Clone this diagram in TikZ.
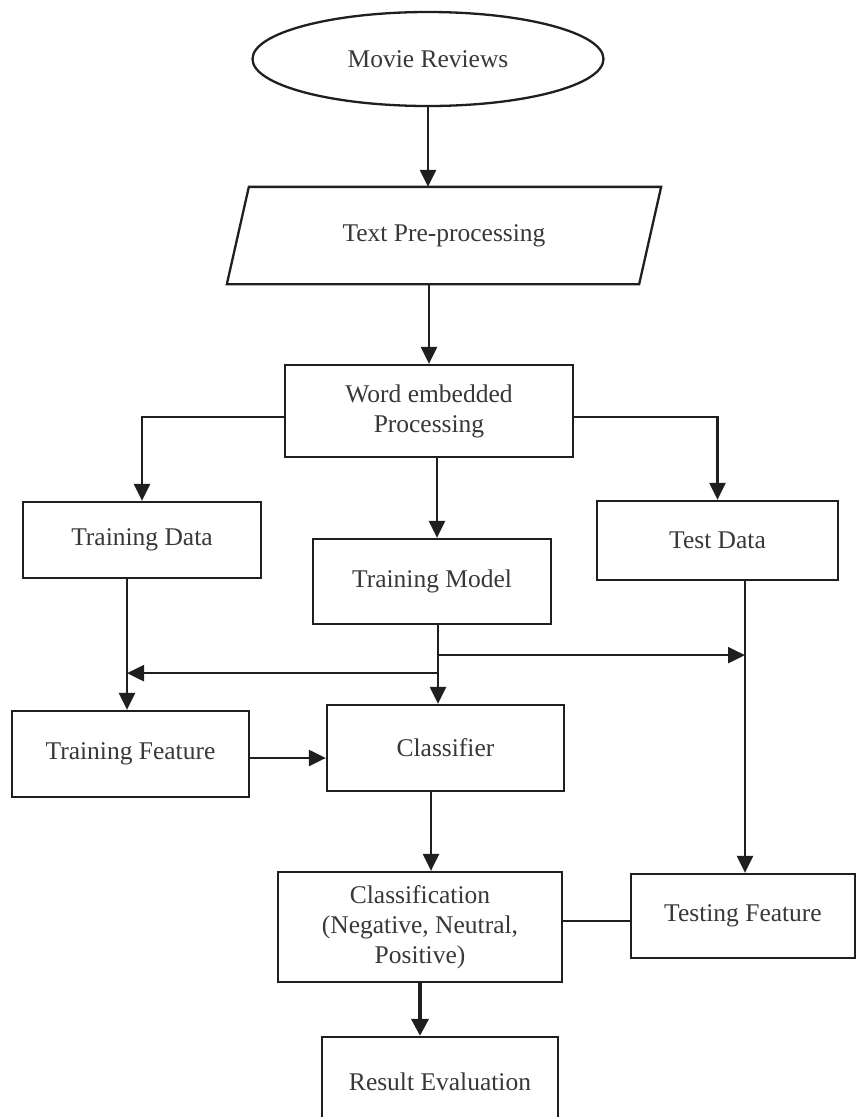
\documentclass[tikz,border=0pt]{standalone}
\usepackage{fontspec}
\setmainfont{Liberation Serif}
\usetikzlibrary{arrows.meta,shapes.geometric,calc}
\tikzset{
  lw/.style={line width=2.3pt, draw=black!88},
  box/.style={lw, rectangle, inner sep=0pt, align=center, text=black!78,
    font=\fontsize{25.5}{30}\selectfont},
  arr/.style={lw, -{Triangle[length=17pt,width=16pt]}},
  thickarr/.style={line width=3.8pt, draw=black!88, -{Triangle[length=17pt,width=17pt]}},
  plain/.style={lw}
}
\begin{document}
\begin{tikzpicture}[x=1pt,y=-1pt]
\useasboundingbox (0,0) rectangle (858,1117);
\fill[white] (0,0) rectangle (858,1117);
\clip (0,0) rectangle (858,1117);

% nodes
\node[box, ellipse, minimum width=351pt, minimum height=94pt] (mr) at (428,59) {Movie Reviews};
\node[box, draw=none, minimum width=432pt, minimum height=95pt] (tp) at (444,235.5) {\raisebox{-4pt}{Text Pre-processing}};
\draw[lw] ([xshift=22pt]tp.north west) -- (tp.north east) -- ([xshift=-22pt]tp.south east) -- (tp.south west) -- cycle;
\node[box, minimum width=288pt, minimum height=92pt] (we) at (429,411) {Word embedded\\Processing};
\node[box, minimum width=238pt, minimum height=76pt] (td) at (142,540) {\raisebox{-4pt}{Training Data}};
\node[box, minimum width=241pt, minimum height=79pt] (tsd) at (717.5,540.5) {\raisebox{-3pt}{Test Data}};
\node[box, minimum width=238pt, minimum height=85pt] (tm) at (432,581.5) {\raisebox{-3pt}{Training Model}};
\node[box, minimum width=237pt, minimum height=86pt] (tf) at (130.5,754) {\raisebox{-3pt}{Training Feature}};
\node[box, minimum width=237pt, minimum height=86pt] (cl) at (445.5,748) {Classifier};
\node[box, minimum width=284pt, minimum height=110pt] (cn) at (420,927) {Classification\\(Negative, Neutral,\\Positive)};
\node[box, minimum width=224pt, minimum height=84pt] (tsf) at (743,916) {\raisebox{-3pt}{Testing Feature}};
\node[box, minimum width=236pt, minimum height=90pt] (re) at (440,1082) {Result Evaluation};

% helper coordinates
\coordinate (a1) at ([xshift=5pt]tm.north);
\coordinate (c1) at ([xshift=-3.5pt]tf.north);
\coordinate (c2) at ([xshift=6pt]tm.south);
\coordinate (c3) at ([xshift=2pt]tsf.north);
\coordinate (c4) at ([xshift=11pt]cn.north);
\coordinate (j1) at ($(c2)+(0,48)$);
\coordinate (j2) at ($(c2)+(0,30)$);

% connectors
\draw[arr] (mr.south) -- (mr.south |- tp.north);
\draw[arr] (tp.south -| we.north) -- (we.north);
\draw[arr] ([yshift=-6pt]we.west) -| (td.north);
\draw[arr] ([yshift=-6pt]we.east) -| (tsd.north);
\draw[arr] (we.south -| a1) -- (a1);
\draw[arr] (td.south -| c1) -- (c1);
\draw[arr] (c2) -- (c2 |- cl.north);
\draw[arr] (j1) -- (j1 -| c1);
\draw[arr] (j2) -- (j2 -| c3);
\draw[arr] (tsd.south -| c3) -- (c3);
\draw[arr] ([yshift=-4pt]tf.east) -- ([yshift=-4pt]tf.east -| cl.west);
\draw[arr] (cl.south -| c4) -- (c4);
\draw[plain] ([yshift=6pt]cn.east) -- ([yshift=6pt]cn.east -| tsf.west);
\draw[thickarr] (cn.south) -- (cn.south |- re.north);
\end{tikzpicture}
\end{document}
